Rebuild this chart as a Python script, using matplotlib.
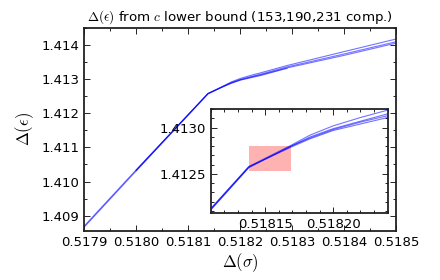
import matplotlib
matplotlib.use("Agg")
import matplotlib.pyplot as plt
from matplotlib.patches import Rectangle
from matplotlib.ticker import MultipleLocator, FormatStrFormatter

# bound curves, Delta(sigma) vs Delta(epsilon)
x_full = [0.5179, 0.5180, 0.518138, 0.518150, 0.518169, 0.518183, 0.51820,
          0.51822, 0.51824, 0.51829, 0.5184, 0.5185]
y_153 = [1.40869, 1.41034, 1.41258, 1.41267, 1.41281, 1.41292, 1.41302,
         1.41311, 1.41319, 1.41340, 1.41381, 1.41418]
y_190 = [1.40866, 1.41031, 1.41257, 1.41266, 1.41280, 1.41290, 1.41299,
         1.41307, 1.41315, 1.41336, 1.41374, 1.41410]

x_231 = [0.5180, 0.518138, 0.518150, 0.518169, 0.518183, 0.51820,
         0.51822, 0.51824, 0.51829, 0.5184, 0.5185]
y_231 = [1.41032, 1.41257, 1.41266, 1.41280, 1.41289, 1.41298,
         1.41306, 1.41313, 1.41333, 1.41370, 1.41406]

x_short = [0.5180, 0.518138, 0.518150, 0.518169, 0.518183, 0.51820,
           0.51822, 0.51824, 0.51829]
y_short = [1.41033, 1.41258, 1.41266, 1.41279, 1.41288, 1.41297,
           1.41304, 1.41311, 1.41332]

# highlighted region
box_x = (0.518138, 0.518169)
box_y = (1.41253, 1.41280)

series = [(x_full, y_153), (x_full, y_190), (x_231, y_231), (x_short, y_short)]

plt.rcParams['font.size'] = 9.5
plt.rcParams['mathtext.fontset'] = 'cm'

fig = plt.figure(figsize=(4.4, 2.8), dpi=100)
ax = fig.add_axes([0.191, 0.175, 0.710, 0.725])
ins = fig.add_axes([0.479, 0.240, 0.402, 0.370])


def style(a):
    for s in a.spines.values():
        s.set_linewidth(1.3)
        s.set_color('#222222')
    a.tick_params(which='both', direction='in', top=True, right=True)
    a.tick_params(which='major', length=4, width=0.6)
    a.tick_params(which='minor', length=2, width=0.6)


for a in (ax, ins):
    for xs, ys in series:
        a.plot(xs, ys, color='b', lw=0.8, alpha=0.55)
    style(a)

ax.set_xlim(0.5179, 0.5185)
ax.set_ylim(1.40855, 1.4145)
ax.xaxis.set_major_locator(MultipleLocator(0.0001))
ax.xaxis.set_minor_locator(MultipleLocator(0.00005))
ax.yaxis.set_major_locator(MultipleLocator(0.001))
ax.yaxis.set_minor_locator(MultipleLocator(0.0005))
ax.xaxis.set_major_formatter(FormatStrFormatter('%.4f'))
ax.yaxis.set_major_formatter(FormatStrFormatter('%.3f'))
ax.set_xlabel(r'$\Delta(\sigma)$', fontsize=12, labelpad=2)
ax.set_ylabel(r'$\Delta(\epsilon)$', fontsize=12, labelpad=4)
ax.set_title(r'$\Delta(\epsilon)$ from $c$ lower bound (153,190,231 comp.)',
             fontsize=9.6, pad=5)

ins.add_patch(Rectangle((box_x[0], box_y[0]), box_x[1] - box_x[0],
                        box_y[1] - box_y[0], facecolor='red', alpha=0.3,
                        edgecolor='none', zorder=0))
ins.set_xlim(0.51811, 0.51824)
ins.set_ylim(1.41208, 1.41320)
ins.xaxis.set_major_locator(MultipleLocator(0.00005))
ins.xaxis.set_minor_locator(MultipleLocator(0.00001))
ins.yaxis.set_major_locator(MultipleLocator(0.0005))
ins.yaxis.set_minor_locator(MultipleLocator(0.0001))
ins.xaxis.set_major_formatter(FormatStrFormatter('%.5f'))
ins.yaxis.set_major_formatter(FormatStrFormatter('%.4f'))

fig.savefig('out.png', dpi=100)
